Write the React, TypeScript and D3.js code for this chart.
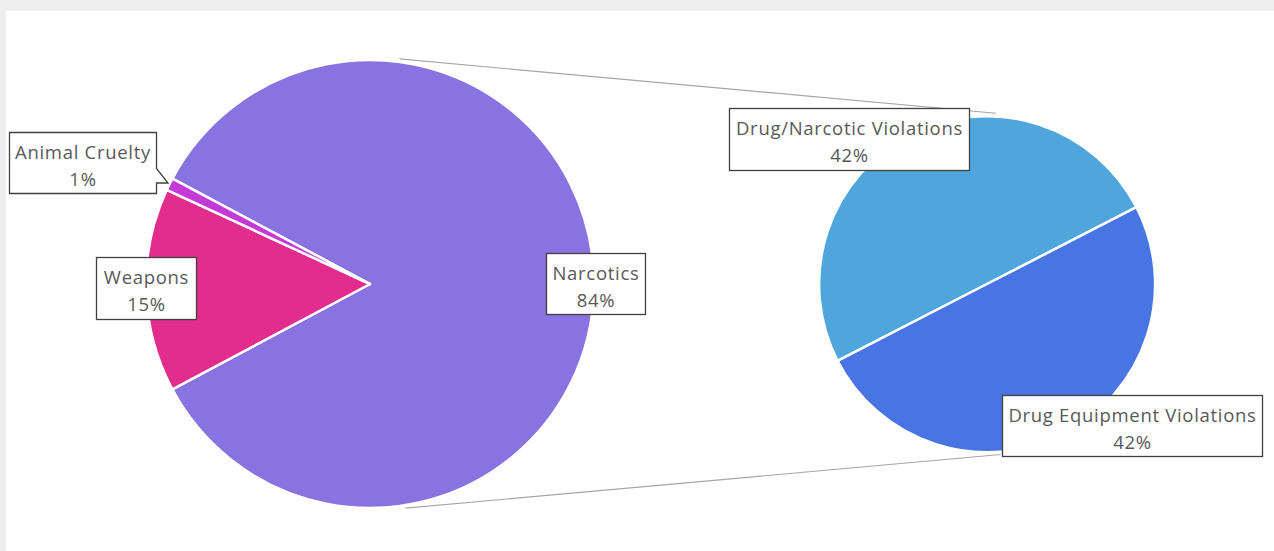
import React from "react";
import * as d3 from "d3";

const mainCategories = ["Narcotics", "Weapons", "Animal Cruelty"];
const mainValues = [84.4, 14.7, 0.9];
const mainColors = ["#8873e0", "#e22d8d", "#c43ad4"];

const subCategories = ["Drug/Narcotic Violations", "Drug Equipment Violations"];
const subValues = [42.2, 42.2];
const subColors = ["#4fa6dc", "#4874e4"];

const W = 1274;
const H = 551;
const FONT = "'Open Sans', 'Segoe UI', sans-serif";

const deg = Math.PI / 180;

type LabelBox = { x: number; y: number; w: number; h: number; pointer?: [number, number] };

export default function App() {
  const c1 = { x: 370, y: 284, r: 224 };
  const c2 = { x: 987, y: 284, r: 168 };

  const otherShare = mainValues[0] / d3.sum(mainValues);
  const start1 = 90 * deg - otherShare * Math.PI;
  const pie1 = d3.pie<number>().sort(null).value((d) => d).startAngle(start1).endAngle(start1 + 2 * Math.PI);
  const arcs1 = pie1(mainValues);
  const arc1 = d3.arc<d3.PieArcDatum<number>>().innerRadius(0).outerRadius(c1.r);

  const start2 = 242.8 * deg;
  const pie2 = d3.pie<number>().sort(null).value((d) => d).startAngle(start2).endAngle(start2 + 2 * Math.PI);
  const arcs2 = pie2(subValues);
  const arc2 = d3.arc<d3.PieArcDatum<number>>().innerRadius(0).outerRadius(c2.r);

  const total = d3.sum(mainValues);
  const fmt = (v: number) => `${Math.round((v / total) * 100)}%`;

  const pt = (c: { x: number; y: number; r: number }, a: number, extra = 3) => [
    c.x + (c.r + extra) * Math.sin(a * deg),
    c.y - (c.r + extra) * Math.cos(a * deg),
  ];
  const topA = pt(c1, 7.5);
  const topB = pt(c2, 3);
  const botA = pt(c1, 171);
  const botB = pt(c2, 175.5);

  const mainBoxes: LabelBox[] = [
    { x: 546.5, y: 253.5, w: 99, h: 61 },
    { x: 96.5, y: 257.5, w: 100, h: 62 },
    { x: 9.5, y: 132.5, w: 147, h: 61, pointer: [168, 183] },
  ];
  const subBoxes: LabelBox[] = [
    { x: 729.5, y: 108.5, w: 240, h: 62 },
    { x: 1002.5, y: 395.5, w: 260, h: 61 },
  ];

  const boxPath = (b: LabelBox) => {
    if (!b.pointer) return null;
    const r = b.x + b.w;
    return `M${b.x},${b.y}H${r}V${b.y + 36}L${b.pointer[0]},${b.pointer[1]}H${r}V${b.y + b.h}H${b.x}Z`;
  };

  const textProps = {
    textAnchor: "middle" as const,
    fontFamily: FONT,
    fontSize: 18.5,
    letterSpacing: 0.7,
    fill: "#595959",
  };

  const renderLabel = (b: LabelBox, name: string, pct: string, key: string) => (
    <g key={key}>
      {b.pointer ? (
        <path d={boxPath(b)!} fill="#fff" stroke="#404040" strokeWidth={1.3} />
      ) : (
        <rect x={b.x} y={b.y} width={b.w} height={b.h} fill="#fff" stroke="#404040" strokeWidth={1.3} />
      )}
      <text x={b.x + b.w / 2} y={b.y + 26} {...textProps}>
        {name}
      </text>
      <text x={b.x + b.w / 2} y={b.y + 53} {...textProps}>
        {pct}
      </text>
    </g>
  );

  return (
    <svg width={W} height={H} style={{ position: "absolute", left: 0, top: 0, display: "block" }}>
      <rect x={0} y={0} width={W} height={H} fill="#eeeeee" />
      <rect x={6} y={11} width={W - 6} height={H - 11} fill="#ffffff" />
      <line x1={topA[0]} y1={topA[1]} x2={topB[0]} y2={topB[1]} stroke="#a6a6a6" strokeWidth={1.2} />
      <line x1={botA[0]} y1={botA[1]} x2={botB[0]} y2={botB[1]} stroke="#a6a6a6" strokeWidth={1.2} />
      <g transform={`translate(${c1.x},${c1.y})`}>
        {arcs1.map((a, i) => (
          <path key={mainCategories[i]} d={arc1(a)!} fill={mainColors[i]} stroke="#fff" strokeWidth={2.5} strokeLinejoin="round" />
        ))}
      </g>
      <g transform={`translate(${c2.x},${c2.y})`}>
        {arcs2.map((a, i) => (
          <path key={subCategories[i]} d={arc2(a)!} fill={subColors[i]} stroke="#fff" strokeWidth={2.5} strokeLinejoin="round" />
        ))}
      </g>
      {mainCategories.map((c, i) => renderLabel(mainBoxes[i], c, fmt(mainValues[i]), c))}
      {subCategories.map((c, i) => renderLabel(subBoxes[i], c, fmt(subValues[i]), c))}
    </svg>
  );
}
